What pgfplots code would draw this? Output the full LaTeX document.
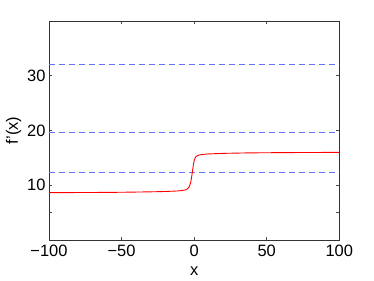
\documentclass[border=0pt]{standalone}
\usepackage{fontspec}
\setmainfont{Liberation Sans}
\usepackage{pgfplots}
\pgfplotsset{compat=1.18}
\usetikzlibrary{calc}
\definecolor{dblue}{RGB}{95,115,255}
\begin{document}
\begin{tikzpicture}
\begin{axis}[
  name=ax,
  scale only axis,
  width=290.3bp, height=219bp,
  xmin=-100, xmax=100, ymin=0, ymax=40,
  xtick={-100,-50,0,50,100},
  xticklabels={−100,−50,0,50,100},
  ytick={5,10,20,30},
  yticklabels={,10,20,30},
  tick align=inside,
  major tick length=3bp,
  tick style={black!70, line width=0.6pt},
  axis line style={black!80, line width=0.7pt},
  ticklabel style={font=\fontsize{16.5}{18}\selectfont},
  xticklabel style={yshift=-2bp},
  label style={font=\fontsize{16.5}{18}\selectfont},
  xlabel={x},
  ylabel={f'(x)},
  xlabel style={yshift=-3bp},
  ylabel style={yshift=-1bp},
  /pgf/number format/assume math mode=true,
  clip=true,
]
\addplot[dblue, line width=0.7pt, dash pattern=on 6bp off 4bp] coordinates {(-100,32.07) (100,32.07)};
\addplot[dblue, line width=0.7pt, dash pattern=on 6bp off 4bp] coordinates {(-100,19.75) (100,19.75)};
\addplot[dblue, line width=0.7pt, dash pattern=on 6bp off 4bp] coordinates {(-100,12.3) (100,12.3)};
\addplot[red, line width=0.9pt, smooth, tension=0.4] coordinates {
 (-100,8.65) (-70,8.68) (-50,8.72) (-30,8.8) (-20,8.86) (-12,8.95) (-8,9.05) (-6,9.15)
 (-4.5,9.35) (-3.5,9.7) (-2.5,10.4) (-1.8,11.4) (-1.2,12.5) (-0.6,13.6) (0,14.5)
 (0.7,15.0) (1.5,15.3) (3,15.5) (5,15.6) (10,15.72) (20,15.82) (35,15.9) (50,15.94) (75,15.98) (100,16.0)
};
\end{axis}
\path ($(ax.south west)+(-49bp,-41bp)$) rectangle ($(ax.north east)+(34.7bp,21bp)$);
\end{tikzpicture}
\end{document}
